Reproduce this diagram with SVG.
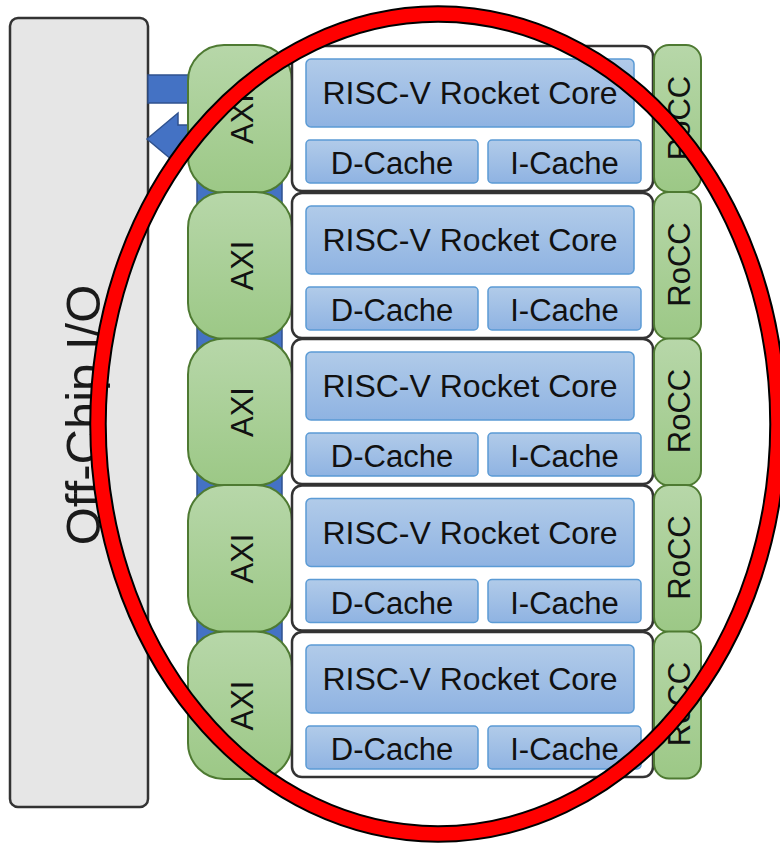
<svg xmlns="http://www.w3.org/2000/svg" width="780" height="843" viewBox="0 0 780 843">
  <defs>
    <linearGradient id="gGreen" x1="0" y1="0" x2="0" y2="1">
      <stop offset="0" stop-color="#b7d7a9"/>
      <stop offset="1" stop-color="#9cc886"/>
    </linearGradient>
    <linearGradient id="gBlue" x1="0" y1="0" x2="0" y2="1">
      <stop offset="0" stop-color="#b1cbe9"/>
      <stop offset="1" stop-color="#8fb3e2"/>
    </linearGradient>
    <style>
      .io { fill: #e6e6e6; stroke: #333333; stroke-width: 2.5; }
      .bus { fill: #4472c4; stroke: #2f528f; stroke-width: 1.5; }
      .axi { fill: url(#gGreen); stroke: #4e7a32; stroke-width: 2; }
      .rocc { fill: url(#gGreen); stroke: #4e7a32; stroke-width: 2; }
      .tile { fill: #ffffff; stroke: #333333; stroke-width: 2.5; }
      .unit { fill: url(#gBlue); stroke: #5b9bd5; stroke-width: 1.5; }
      text { font-family: "Liberation Sans", Arial, sans-serif; fill: #111111; text-anchor: middle; }
      .t-core { font-size: 32px; }
      .t-cache { font-size: 31px; }
      .t-axi { font-size: 31px; }
      .t-rocc { font-size: 31px; }
      .t-io { font-size: 49px; fill: #1a1a1a; }
      .ring-outline { fill: none; stroke: #000000; stroke-width: 17.5; }
      .ring { fill: none; stroke: #ff0000; stroke-width: 13.5; }
    </style>
    <!-- one processor tile: core, caches; origin at tile top-left -->
    <g id="tileBody">
      <rect class="tile" x="0" y="0" width="361" height="145" rx="10"/>
      <rect class="unit" x="14" y="13" width="328" height="68" rx="5"/>
      <text class="t-core" x="178" y="58">RISC-V Rocket Core</text>
      <rect class="unit" x="14" y="94" width="172" height="43" rx="4"/>
      <text class="t-cache" x="100" y="128">D-Cache</text>
      <rect class="unit" x="196" y="94" width="153" height="43" rx="4"/>
      <text class="t-cache" x="272.5" y="128">I-Cache</text>
    </g>
  </defs>

  <!-- off-chip I/O block -->
  <g id="offchip-io">
    <rect class="io" x="10" y="18" width="138" height="789" rx="8"/>
    <text class="t-io" transform="translate(100 415) rotate(-90)">Off-Chip I/O</text>
  </g>

  <!-- bus links between I/O and the AXI column -->
  <g id="connectors">
    <rect class="bus" x="197" y="100" width="85" height="660"/>
    <rect class="bus" x="148" y="75" width="60" height="28"/>
    <polygon class="bus" points="147,139 178,113 178,125 210,125 210,153 178,153 178,165"/>
  </g>

  <!-- tile 0 -->
  <g id="axi-0">
    <rect class="axi" x="188" y="45" width="104" height="148" rx="36"/>
    <text class="t-axi" transform="translate(253 119) rotate(-90)">AXI</text>
  </g>
  <g id="tile-0"><use href="#tileBody" x="292" y="46"/></g>
  <g id="rocc-0">
    <rect class="rocc" x="654" y="45" width="47" height="147" rx="15"/>
    <text class="t-rocc" transform="translate(690 118) rotate(-90)">RoCC</text>
  </g>

  <!-- tile 1 -->
  <g id="axi-1">
    <rect class="axi" x="188" y="192" width="104" height="147" rx="36"/>
    <text class="t-axi" transform="translate(253 265.5) rotate(-90)">AXI</text>
  </g>
  <g id="tile-1"><use href="#tileBody" x="292" y="193"/></g>
  <g id="rocc-1">
    <rect class="rocc" x="654" y="192" width="47" height="147" rx="15"/>
    <text class="t-rocc" transform="translate(690 264.5) rotate(-90)">RoCC</text>
  </g>

  <!-- tile 2 -->
  <g id="axi-2">
    <rect class="axi" x="188" y="338.5" width="104" height="147" rx="36"/>
    <text class="t-axi" transform="translate(253 412) rotate(-90)">AXI</text>
  </g>
  <g id="tile-2"><use href="#tileBody" x="292" y="339"/></g>
  <g id="rocc-2">
    <rect class="rocc" x="654" y="338.5" width="47" height="147" rx="15"/>
    <text class="t-rocc" transform="translate(690 411) rotate(-90)">RoCC</text>
  </g>

  <!-- tile 3 -->
  <g id="axi-3">
    <rect class="axi" x="188" y="485" width="104" height="147" rx="36"/>
    <text class="t-axi" transform="translate(253 558.5) rotate(-90)">AXI</text>
  </g>
  <g id="tile-3"><use href="#tileBody" x="292" y="485.5"/></g>
  <g id="rocc-3">
    <rect class="rocc" x="654" y="485" width="47" height="147" rx="15"/>
    <text class="t-rocc" transform="translate(690 557.5) rotate(-90)">RoCC</text>
  </g>

  <!-- tile 4 -->
  <g id="axi-4">
    <rect class="axi" x="188" y="631.5" width="104" height="147.5" rx="36"/>
    <text class="t-axi" transform="translate(253 705.5) rotate(-90)">AXI</text>
  </g>
  <g id="tile-4"><use href="#tileBody" x="292" y="632"/></g>
  <g id="rocc-4">
    <rect class="rocc" x="654" y="631.5" width="47" height="147" rx="15"/>
    <text class="t-rocc" transform="translate(690 704) rotate(-90)">RoCC</text>
  </g>

  <!-- highlight ring around the tile array -->
  <g id="highlight">
    <ellipse class="ring-outline" cx="438" cy="424" rx="340" ry="410"/>
    <ellipse class="ring" cx="438" cy="424" rx="340" ry="410"/>
  </g>
</svg>
